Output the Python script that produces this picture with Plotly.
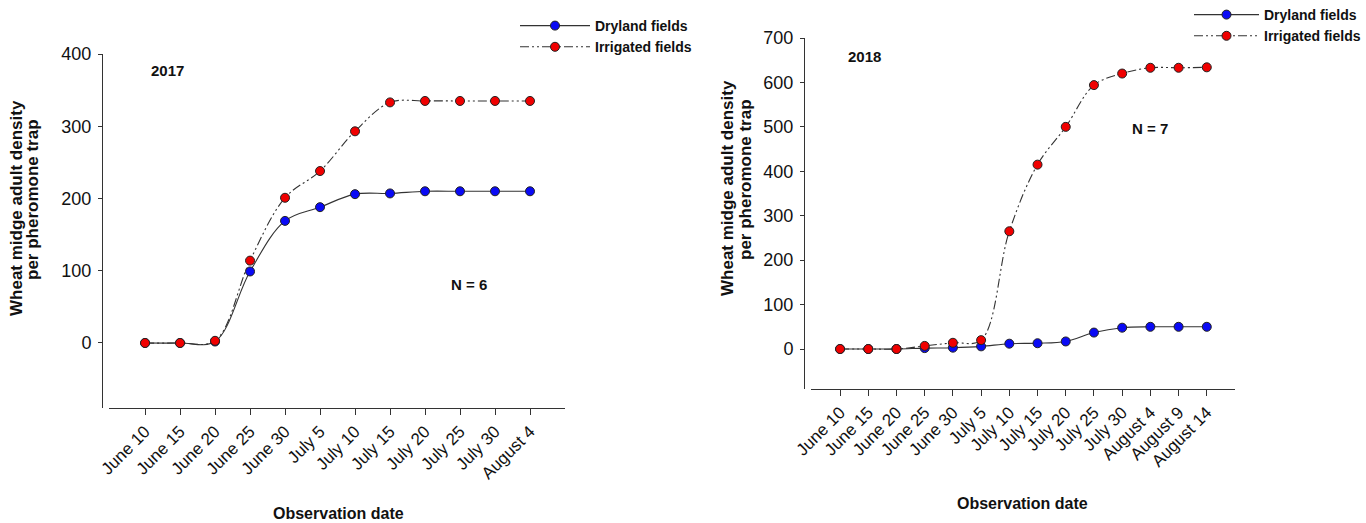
import plotly.graph_objects as go

W, H = 1366, 523

dates_2017 = ["June 10", "June 15", "June 20", "June 25", "June 30", "July 5",
              "July 10", "July 15", "July 20", "July 25", "July 30", "August 4"]
dry_2017 = [0, 0, 2, 99, 169, 188, 206, 207, 210, 210, 210, 210]
irr_2017 = [0, 0, 3, 114, 201, 238, 293, 333, 335, 335, 335, 335]

dates_2018 = ["June 10", "June 15", "June 20", "June 25", "June 30", "July 5",
              "July 10", "July 15", "July 20", "July 25", "July 30", "August 4",
              "August 9", "August 14"]
dry_2018 = [0, 0, 0, 2, 3, 6, 12, 13, 17, 37, 48, 50, 50, 50]
irr_2018 = [0, 0, 0, 7, 14, 20, 265, 415, 500, 594, 620, 633, 633, 634]

yticks_2017 = [0, 100, 200, 300, 400]
yticks_2018 = [0, 100, 200, 300, 400, 500, 600, 700]

REG = "Liberation Sans, Arial, sans-serif"
LINE_C = "#333333"
BLUE = "#0a0af5"
RED = "#f00000"
DASH = "9px,3px,2px,3px,2px,3px"


def px(x):
    return x / W


def py(y):
    return 1 - y / H


fig = go.Figure()

x17 = list(range(len(dates_2017)))
x18 = list(range(len(dates_2018)))

fig.add_trace(go.Scatter(x=x17, y=dry_2017, name="Dryland fields", mode="lines+markers",
                         line=dict(color=LINE_C, width=1.1, shape="spline"),
                         marker=dict(color=BLUE, size=9, line=dict(color="#222", width=1)),
                         xaxis="x", yaxis="y", legend="legend"))
fig.add_trace(go.Scatter(x=x17, y=irr_2017, name="Irrigated fields", mode="lines+markers",
                         line=dict(color=LINE_C, width=1.1, shape="spline", dash=DASH),
                         marker=dict(color=RED, size=9, line=dict(color="#222", width=1)),
                         xaxis="x", yaxis="y", legend="legend"))
fig.add_trace(go.Scatter(x=x18, y=dry_2018, name="Dryland fields", mode="lines+markers",
                         line=dict(color=LINE_C, width=1.1, shape="spline"),
                         marker=dict(color=BLUE, size=9, line=dict(color="#222", width=1)),
                         xaxis="x2", yaxis="y2", legend="legend2"))
fig.add_trace(go.Scatter(x=x18, y=irr_2018, name="Irrigated fields", mode="lines+markers",
                         line=dict(color=LINE_C, width=1.1, shape="spline", dash=DASH),
                         marker=dict(color=RED, size=9, line=dict(color="#222", width=1)),
                         xaxis="x2", yaxis="y2", legend="legend2"))

xcommon = dict(showline=True, linecolor=LINE_C, linewidth=1, ticks="outside", ticklen=6,
               tickcolor=LINE_C, tickangle=-45, showgrid=False, zeroline=False,
               automargin=False,
               tickfont=dict(family=REG, size=17, color="#111"))
ycommon = dict(showline=True, linecolor=LINE_C, linewidth=1, ticks="outside", ticklen=4,
               tickcolor=LINE_C, showgrid=False, zeroline=False, automargin=False,
               tickfont=dict(family=REG, size=18, color="#111"), ticklabelstandoff=3)

legfont = dict(family=REG, size=14, color="#111", weight="bold")

fig.update_layout(
    width=W, height=H, margin=dict(l=0, r=0, t=0, b=0, autoexpand=False),
    paper_bgcolor="white", plot_bgcolor="white",
    xaxis=dict(domain=[px(109), px(565)], range=[-1.03, 12], tickvals=x17, ticktext=dates_2017,
               anchor="y", **xcommon),
    yaxis=dict(domain=[py(408), py(54)], range=[-90, 400], tickvals=yticks_2017,
               anchor="free", position=px(102), **ycommon),
    xaxis2=dict(domain=[px(811), px(1235)], range=[-1.03, 14], tickvals=x18, ticktext=dates_2018,
                anchor="y2", **xcommon),
    yaxis2=dict(domain=[py(389), py(38)], range=[-90, 700], tickvals=yticks_2018,
                anchor="free", position=px(804), **ycommon),
    legend=dict(x=px(515), y=py(10), xanchor="left", yanchor="top", bgcolor="rgba(0,0,0,0)",
                font=legfont, itemwidth=70, tracegroupgap=0),
    legend2=dict(x=1.0, y=py(-1), xanchor="right", yanchor="top", bgcolor="rgba(0,0,0,0)",
                 font=legfont, itemwidth=65, tracegroupgap=0),
    showlegend=True,
)


def ann(text, x, y, size=16, angle=0):
    fig.add_annotation(text=text, x=px(x), y=py(y), xref="paper", yref="paper",
                       showarrow=False, xanchor="center", yanchor="middle", textangle=angle,
                       font=dict(family=REG, size=size, color="#111"))


ann("<b>2017</b>", 167, 70, size=15)
ann("<b>N = 6</b>", 469, 284, size=15)
ann("<b>Observation date</b>", 338, 513)
ann("<b>Wheat midge adult density</b>", 16, 208, size=17, angle=-90)
ann("<b>per pheromone trap</b>", 33, 200, size=17, angle=-90)

ann("<b>2018</b>", 864, 56, size=15)
ann("<b>N = 7</b>", 1150, 128, size=15)
ann("<b>Observation date</b>", 1023, 503)
ann("<b>Wheat midge adult density</b>", 727, 188, size=17, angle=-90)
ann("<b>per pheromone trap</b>", 745, 180, size=17, angle=-90)

fig.write_html("out.html")
